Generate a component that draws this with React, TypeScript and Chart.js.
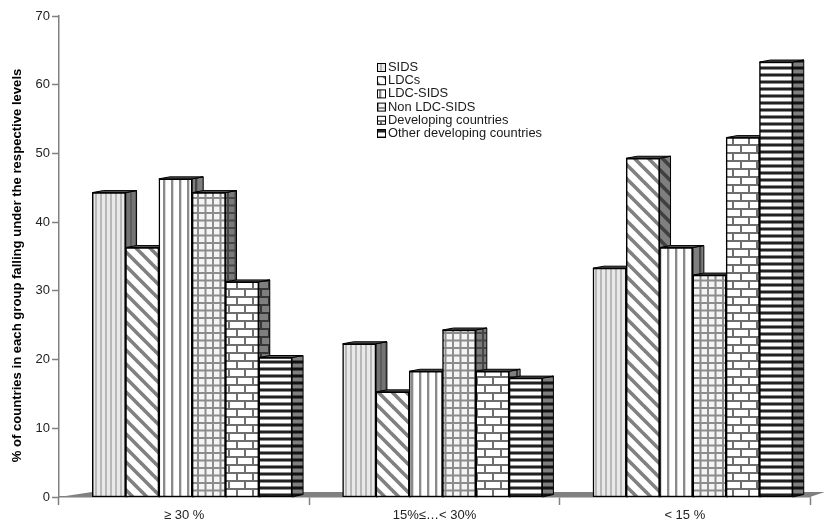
import React, { useEffect, useRef } from "react";
import { Chart, registerables } from "chart.js";

Chart.register(...registerables);

const categories = ["≥ 30 %", "15%≤…< 30%", "< 15 %"];
const sids = [44, 22, 33];
const ldcs = [36, 15, 49];
const ldcSids = [46, 18, 36];
const nonLdcSids = [44, 24, 32];
const developing = [31, 18, 52];
const otherDeveloping = [20, 17, 63];
const seriesLabels = ["SIDS", "LDCs", "LDC-SIDS", "Non LDC-SIDS", "Developing countries", "Other developing countries"];
const seriesValues = [sids, ldcs, ldcSids, nonLdcSids, developing, otherDeveloping];
const yTitle = "% of countries in each group falling under the respective levels";

const FONT = '"Liberation Sans", Arial, sans-serif';
const DX = 11;
const DY = 2;

function tile(w: number, h: number, draw: (c: CanvasRenderingContext2D) => void) {
  const cv = document.createElement("canvas");
  cv.width = w;
  cv.height = h;
  const c = cv.getContext("2d")!;
  draw(c);
  return c.createPattern(cv, "repeat")!;
}

function makePatterns() {
  const p1 = tile(5, 5, (c) => {
    c.fillStyle = "#e9e9e9";
    c.fillRect(0, 0, 5, 5);
    c.fillStyle = "#b8b8b8";
    c.fillRect(0, 0, 2, 5);
  });
  const p2 = tile(14, 14, (c) => {
    c.fillStyle = "#fff";
    c.fillRect(0, 0, 14, 14);
    c.strokeStyle = "#808080";
    c.lineWidth = 3.6;
    for (const o of [-14, 0, 14]) {
      c.beginPath();
      c.moveTo(o - 2, -2);
      c.lineTo(o + 16, 16);
      c.stroke();
    }
  });
  const p3 = tile(8, 8, (c) => {
    c.fillStyle = "#fff";
    c.fillRect(0, 0, 8, 8);
    c.fillStyle = "#8a8a8a";
    c.fillRect(3, 0, 2, 8);
    c.fillStyle = "#d8d8d8";
    c.fillRect(5, 0, 1, 8);
  });
  const p4 = tile(15, 15, (c) => {
    c.fillStyle = "#f4f4f4";
    c.fillRect(0, 0, 15, 15);
    c.fillStyle = "#8c8c8c";
    c.fillRect(2, 0, 2, 15);
    c.fillRect(9.5, 0, 2, 15);
    c.fillRect(0, 2, 15, 2);
    c.fillRect(0, 9.5, 15, 2);
  });
  const p5 = tile(16, 16, (c) => {
    c.fillStyle = "#fff";
    c.fillRect(0, 0, 16, 16);
    c.fillStyle = "#6e6e6e";
    c.fillRect(0, 0, 16, 2);
    c.fillRect(0, 8, 16, 2);
    c.fillRect(4, 0, 2, 8);
    c.fillRect(12, 8, 2, 8);
  });
  const p6 = tile(7, 7, (c) => {
    c.fillStyle = "#fff";
    c.fillRect(0, 0, 7, 7);
    c.fillStyle = "#8c8c8c";
    c.fillRect(0, 3, 7, 1);
    c.fillRect(0, 6, 7, 1);
    c.fillStyle = "#222";
    c.fillRect(0, 4, 7, 2);
  });
  return [p1, p2, p3, p4, p5, p6];
}

const depthPlugin = {
  id: "depth",
  beforeDatasetsDraw(chart: any) {
    const { ctx, chartArea: a } = chart;
    ctx.save();
    ctx.fillStyle = "#808080";
    ctx.beginPath();
    ctx.moveTo(a.left, a.bottom);
    ctx.lineTo(a.left + 33, a.bottom - 5);
    ctx.lineTo(a.right + 15, a.bottom - 5);
    ctx.lineTo(a.right, a.bottom);
    ctx.closePath();
    ctx.fill();
    chart.data.datasets.forEach((ds: any, i: number) => {
      chart.getDatasetMeta(i).data.forEach((bar: any) => {
        const l = bar.x - bar.width / 2;
        const r = bar.x + bar.width / 2;
        const t = bar.y;
        const b = a.bottom;
        const side = () => {
          ctx.beginPath();
          ctx.moveTo(r, t);
          ctx.lineTo(r + DX, t - DY);
          ctx.lineTo(r + DX, b - 2.5);
          ctx.lineTo(r, b);
          ctx.closePath();
        };
        side();
        ctx.fillStyle = ds.backgroundColor;
        ctx.fill();
        side();
        ctx.fillStyle = "rgba(0,0,0,0.5)";
        ctx.fill();
        ctx.strokeStyle = "#000";
        ctx.lineWidth = 1;
        ctx.stroke();
        ctx.beginPath();
        ctx.moveTo(l, t);
        ctx.lineTo(l + DX, t - DY);
        ctx.lineTo(r + DX, t - DY);
        ctx.lineTo(r, t);
        ctx.closePath();
        ctx.fillStyle = "#555";
        ctx.fill();
        ctx.stroke();
      });
    });
    ctx.restore();
  },
  afterDraw(chart: any) {
    const { ctx, chartArea: a } = chart;
    ctx.save();
    ctx.textBaseline = "middle";
    ctx.textAlign = "left";
    ctx.fillStyle = "#1a1a1a";
    ctx.font = `12.9px ${FONT}`;
    chart.data.datasets.forEach((ds: any, i: number) => {
      const y = a.top + 51.5 + i * 13.2;
      ctx.fillStyle = ds.backgroundColor;
      ctx.fillRect(377.5, y - 4, 8, 8);
      ctx.strokeStyle = "#000";
      ctx.lineWidth = 1;
      ctx.strokeRect(377.5, y - 4, 8, 8);
      ctx.fillStyle = "#1a1a1a";
      ctx.fillText(ds.label, 388, y);
    });
    ctx.translate(17, 265.5);
    ctx.rotate(-Math.PI / 2);
    ctx.textAlign = "center";
    ctx.font = `bold 13.1px ${FONT}`;
    ctx.fillStyle = "#000";
    ctx.fillText(yTitle, 0, 0);
    ctx.restore();
  },
};

export default function App() {
  const ref = useRef<HTMLCanvasElement>(null);
  useEffect(() => {
    const patterns = makePatterns();
    const chart = new Chart(ref.current!, {
      type: "bar",
      data: {
        labels: categories,
        datasets: seriesLabels.map((label, i) => ({
          label,
          data: seriesValues[i].map((v, j) => ({ x: j, y: v })),
          xAxisID: "xb",
          yAxisID: "yb",
          base: -0.3,
          backgroundColor: patterns[i],
          borderColor: "#000",
          borderWidth: 1.5,
          borderSkipped: false,
          barThickness: 33.3,
        })),
      } as any,
      options: {
        responsive: false,
        animation: false,
        layout: { padding: { top: 16, right: 14, left: 0, bottom: 0 } },
        plugins: { legend: { display: false }, tooltip: { enabled: false } },
        scales: {
          x: {
            type: "category",
            offset: true,
            afterFit: (s: any) => { s.height = 28; },
            border: { color: "#808080", width: 1.5 },
            grid: { offset: true, drawOnChartArea: false, tickLength: 8, color: "#808080", tickWidth: 1.5 },
            ticks: { font: { family: FONT, size: 13 }, color: "#222", padding: 3, maxRotation: 0 },
          },
          y: {
            type: "linear",
            min: 0,
            max: 70,
            afterFit: (s: any) => { s.width = 59; },
            border: { color: "#808080", width: 1.5 },
            grid: { drawOnChartArea: false, tickLength: 7, color: "#808080", tickWidth: 1.5 },
            ticks: { stepSize: 10, font: { family: FONT, size: 13 }, color: "#222", padding: 2 },
          },
          xb: { type: "linear", axis: "x", display: false, offset: false, min: -0.532, max: 2.468 },
          yb: { type: "linear", axis: "y", display: false, min: -0.3, max: 69.7 },
        },
      } as any,
      plugins: [depthPlugin],
    });
    return () => chart.destroy();
  }, []);
  return (
    <div style={{ position: "absolute", left: 0, top: 0 }}>
      <canvas ref={ref} width={824} height={525} style={{ display: "block" }} />
    </div>
  );
}
